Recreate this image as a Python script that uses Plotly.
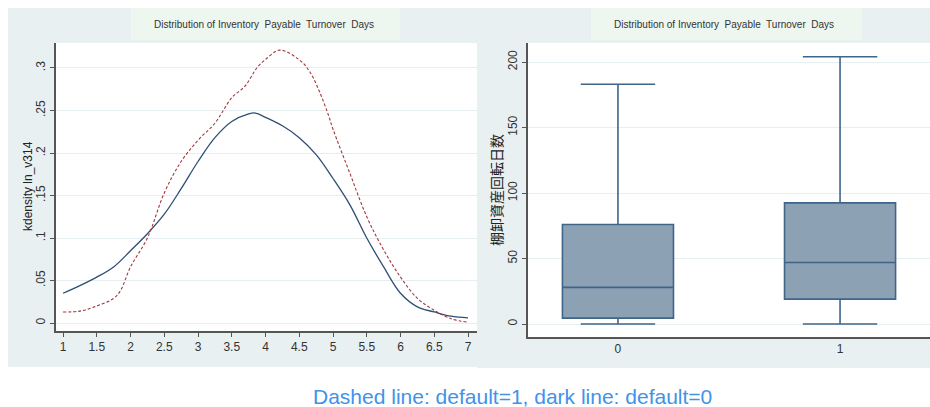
import plotly.graph_objects as go

W, H = 930, 407

# ---- data ----
kd_x = [1, 1.25, 1.5, 1.75, 2, 2.25, 2.5, 2.75, 3, 3.25, 3.5, 3.75, 3.85, 4,
        4.25, 4.5, 4.75, 5, 5.25, 5.5, 5.75, 6, 6.25, 6.5, 6.75, 7]
kd_default0 = [0.035, 0.044, 0.054, 0.066, 0.085, 0.105, 0.128, 0.158, 0.190, 0.218,
               0.237, 0.246, 0.247, 0.242, 0.232, 0.218, 0.198, 0.170, 0.139, 0.100,
               0.066, 0.035, 0.019, 0.013, 0.008, 0.006]
kd1_x = [1, 1.25, 1.5, 1.75, 1.85, 2, 2.25, 2.5, 2.75, 3, 3.25, 3.5, 3.7, 3.87, 4,
         4.21, 4.51, 4.66, 4.8, 4.93, 5, 5.25, 5.5, 5.75, 6, 6.25, 6.5, 6.75, 7]
kd_default1 = [0.013, 0.014, 0.020, 0.029, 0.038, 0.066, 0.100, 0.153, 0.190, 0.215,
               0.235, 0.265, 0.279, 0.300, 0.310, 0.321, 0.309, 0.295, 0.272, 0.245,
               0.228, 0.176, 0.125, 0.086, 0.054, 0.029, 0.015, 0.005, 0.001]

box_groups = [0, 1]
box_lower = [0, 0]
box_q1 = [4.5, 19]
box_median = [28, 47]
box_q3 = [76, 92.5]
box_upper = [183, 204]

x_ticks = [1, 1.5, 2, 2.5, 3, 3.5, 4, 4.5, 5, 5.5, 6, 6.5, 7]
y_ticks = [0, 0.05, 0.1, 0.15, 0.2, 0.25, 0.3]
y_ticklabels = ["0", ".05", ".1", ".15", ".2", ".25", ".3"]
y2_ticks = [0, 50, 100, 150, 200]

title_text = "Distribution of Inventory  Payable  Turnover  Days"
caption = "Dashed line: default=1, dark line: default=0"

# ---- figure ----
BG = "#E9F0F2"
GREEN = "#EEF7EF"
GRID = "#E6EEF1"
AX = "#555555"
FONT = "Liberation Sans, Arial, sans-serif"

fig = go.Figure()
fig.add_trace(go.Scatter(x=kd_x, y=kd_default0, mode="lines",
                         line=dict(color="#2E4E74", width=1.3, shape="spline", smoothing=1),
                         xaxis="x", yaxis="y", showlegend=False))
fig.add_trace(go.Scatter(x=kd1_x, y=kd_default1, mode="lines",
                         line=dict(color="#A0393E", width=1.1, dash="3px,2px", shape="spline"),
                         xaxis="x", yaxis="y", showlegend=False))

for i, g in enumerate(box_groups):
    fig.add_trace(go.Box(x=[g], q1=[box_q1[i]], median=[box_median[i]], q3=[box_q3[i]],
                         lowerfence=[box_lower[i]], upperfence=[box_upper[i]],
                         width=0.5, whiskerwidth=0.67,
                         fillcolor="#8CA1B4", line=dict(color="#3F6589", width=1.6),
                         boxpoints=False, xaxis="x2", yaxis="y2", showlegend=False))

def px(x):
    return x / W

def py(y):
    return 1 - y / H

shapes = [
    dict(type="rect", xref="paper", yref="paper", x0=px(8), x1=px(477), y0=py(367), y1=py(8),
         fillcolor=BG, line=dict(width=0), layer="below"),
    dict(type="rect", xref="paper", yref="paper", x0=px(477), x1=px(930), y0=py(368), y1=py(8),
         fillcolor=BG, line=dict(width=0), layer="below"),
    dict(type="rect", xref="paper", yref="paper", x0=px(131), x1=px(400), y0=py(40), y1=py(8),
         fillcolor=GREEN, line=dict(width=0), layer="below"),
    dict(type="rect", xref="paper", yref="paper", x0=px(591), x1=px(862), y0=py(40), y1=py(8),
         fillcolor=GREEN, line=dict(width=0), layer="below"),
    dict(type="rect", xref="paper", yref="paper", x0=px(56), x1=px(477), y0=py(331), y1=py(43),
         fillcolor="white", line=dict(width=0), layer="below"),
    dict(type="rect", xref="paper", yref="paper", x0=px(528), x1=px(930), y0=py(337), y1=py(43),
         fillcolor="white", line=dict(width=0), layer="below"),
]

annotations = [
    dict(text=title_text, xref="paper", yref="paper", x=px(264), y=py(24),
         showarrow=False, font=dict(family=FONT, size=10, color="#333333"), xanchor="center", yanchor="middle"),
    dict(text=title_text, xref="paper", yref="paper", x=px(724), y=py(24),
         showarrow=False, font=dict(family=FONT, size=10, color="#333333"), xanchor="center", yanchor="middle"),
    dict(text="kdensity ln_v314", xref="paper", yref="paper", x=px(28), y=py(186),
         showarrow=False, textangle=-90, font=dict(family=FONT, size=12, color="#222222"),
         xanchor="center", yanchor="middle"),
    dict(text="棚卸資産回転日数", xref="paper", yref="paper", x=px(496), y=py(190),
         showarrow=False, textangle=-90,
         font=dict(family="Noto Sans CJK JP, sans-serif", size=14, color="#222222"),
         xanchor="center", yanchor="middle"),
    dict(text=caption, xref="paper", yref="paper", x=px(512), y=py(396),
         showarrow=False, font=dict(family=FONT, size=21, color="#3F93E8"),
         xanchor="center", yanchor="middle"),
]

axis_common = dict(showline=True, linecolor=AX, linewidth=1.5, ticks="outside",
                   ticklen=4, tickcolor=AX, tickfont=dict(family=FONT, size=12, color="#333333"),
                   zeroline=False)

fig.update_layout(
    width=W, height=H, margin=dict(l=0, r=0, t=0, b=0),
    paper_bgcolor="white", plot_bgcolor="rgba(0,0,0,0)",
    shapes=shapes, annotations=annotations,
    xaxis=dict(domain=[px(56), px(477)], range=[0.896, 7.133], tickvals=x_ticks,
               ticktext=[str(t) for t in x_ticks], showgrid=False, anchor="y", **axis_common),
    yaxis=dict(domain=[py(331), py(43)], range=[-0.0094, 0.3294], tickvals=y_ticks,
               ticktext=y_ticklabels, tickangle=-90, showgrid=True, gridcolor=GRID,
               anchor="x", **axis_common),
    xaxis2=dict(domain=[px(528), px(930)], range=[-0.405, 1.405], tickvals=[0, 1],
                ticktext=["0", "1"], ticks="", showgrid=False, anchor="y2",
                showline=True, linecolor=AX, linewidth=1.5, zeroline=False,
                tickfont=dict(family=FONT, size=12, color="#333333")),
    yaxis2=dict(domain=[py(337), py(43)], range=[-9.9, 214.5], tickvals=y2_ticks,
                tickangle=-90, showgrid=True, gridcolor=GRID, anchor="x2", **axis_common),
)

fig.write_html("out.html")
